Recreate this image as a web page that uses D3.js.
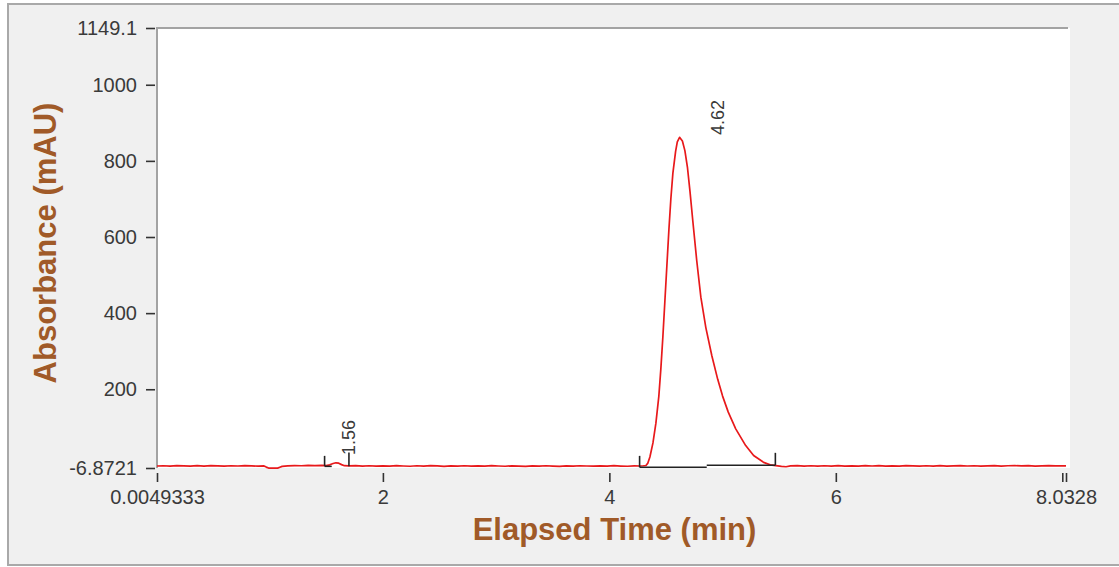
<!DOCTYPE html>
<html>
<head>
<meta charset="utf-8">
<script src="https://cdn.jsdelivr.net/npm/d3@7/dist/d3.min.js"></script>
<style>
  html, body { margin: 0; padding: 0; background: #ffffff; }
  svg { display: block; }
  text { font-family: "Liberation Sans", Arial, sans-serif; }
</style>
</head>
<body>
<svg id="chart" width="1119" height="567"></svg>
<script>
// Axis extents and tick labels
const xDomain = [0.0049333, 8.0328];
const yDomain = [-6.8721, 1149.1];
const xTicks = [0.0049333, 2, 4, 6, 8, 8.0328];
const xTickLabels = ["0.0049333", "2", "4", "6", "", "8.0328"];
const yTicks = [-6.8721, 200, 400, 600, 800, 1000, 1149.1];
const yTickLabels = ["-6.8721", "200", "400", "600", "800", "1000", "1149.1"];

// Detector trace: [elapsed time (min), absorbance (mAU)]
const trace = [
  [0.0049333,-1.6],[0.06,-0.9],[0.12,-1.9],[0.18,-0.7],[0.24,-1.5],[0.30,-2.2],[0.36,-0.8],[0.42,-1.7],
  [0.48,-0.6],[0.54,-1.4],[0.60,-2.0],[0.66,-0.9],[0.72,-1.6],[0.78,-0.5],[0.84,-1.3],[0.90,-2.1],[0.95,-1.5],
  [0.97,-4.5],[0.99,-7.0],[1.03,-7.4],[1.07,-7.1],[1.09,-4.8],[1.11,-2.6],
  [1.16,-1.2],[1.22,-0.4],[1.28,-1.0],[1.34,-0.2],[1.40,-0.8],[1.46,0.1],[1.50,-0.5],
  [1.53,1.5],[1.56,5.0],[1.585,6.8],[1.61,5.8],[1.635,2.0],[1.66,-0.8],
  [1.70,-1.4],[1.76,-0.6],[1.82,-1.8],[1.88,-0.9],[1.94,-2.0],[2.00,-1.1],[2.06,-1.9],[2.12,-0.8],
  [2.18,-1.6],[2.24,-2.3],[2.30,-1.0],[2.36,-1.8],[2.42,-0.7],[2.48,-1.5],[2.54,-2.4],[2.60,-1.2],
  [2.66,-1.9],[2.72,-0.9],[2.78,-2.2],[2.84,-1.3],[2.90,-1.9],[2.96,-0.8],[3.02,-1.6],[3.08,-2.3],
  [3.14,-1.1],[3.20,-1.8],[3.26,-2.5],[3.32,-1.4],[3.38,-2.0],[3.44,-1.0],[3.50,-1.7],[3.56,-2.4],
  [3.62,-1.2],[3.68,-1.9],[3.74,-0.9],[3.80,-1.6],[3.86,-2.2],[3.92,-1.1],[3.98,-1.8],[4.04,-0.8],
  [4.10,-1.7],[4.16,-2.3],[4.22,-1.2],[4.27,-1.6],[4.30,-1.0],
  [4.323,-0.3],[4.34,6],[4.358,22],[4.385,59],[4.411,111],[4.437,182],[4.455,255],[4.473,340],
  [4.490,430],[4.508,525],[4.526,620],[4.543,700],[4.561,768],[4.585,825],[4.60,850],[4.62,862],
  [4.645,852],[4.667,827],[4.690,782],[4.712,720],[4.737,642],[4.772,537],[4.808,442],[4.852,362],
  [4.905,288],[4.957,226],[5.00,182],[5.05,140],[5.116,96],[5.204,52],[5.274,26],[5.362,8],[5.42,1.5],[5.47,-0.8],
  [5.52,-2.8],[5.56,-3.6],[5.60,-1.5],[5.66,-0.7],[5.72,-1.8],[5.78,-0.9],[5.84,-2.1],[5.90,-1.0],
  [5.96,-1.7],[6.02,-0.6],[6.08,-1.9],[6.14,-1.1],[6.20,-2.2],[6.26,-0.8],[6.32,-1.6],[6.38,-0.7],
  [6.44,-2.0],[6.50,-1.2],[6.56,-1.8],[6.62,-0.6],[6.68,-1.5],[6.74,-2.1],[6.80,-0.9],[6.86,-1.7],
  [6.92,-0.8],[6.98,-1.9],[7.04,-1.1],[7.10,-0.5],[7.16,-1.6],[7.22,-0.9],[7.28,-2.0],[7.34,-1.2],
  [7.40,-0.6],[7.46,-1.8],[7.52,-1.0],[7.58,-0.4],[7.64,-1.5],[7.70,-0.8],[7.76,-1.9],[7.82,-1.1],
  [7.88,-0.5],[7.94,-1.4],[8.00,-0.9],[8.0328,-1.2]
];

// Integration events: vertical markers (time, base, top) and drawn baselines
const peakMarkers = [
  { t: 1.485, base: -2.0, top: 25 },
  { t: 1.700, base: -2.0, top: 34 },
  { t: 4.267, base: -5.0, top: 25 },
  { t: 5.466, base: 0.5, top: 33 }
];
const integrationBaselines = [
  { t0: 1.485, t1: 1.548, v: -2.5 },
  { t0: 4.267, t1: 4.860, v: -5.0 },
  { t0: 4.860, t1: 5.466, v: 0.5 }
];
// Retention-time labels and where they sit
const peakLabels = [
  { text: "1.56", t: 1.750, v: 27 },
  { text: "4.62", t: 5.010, v: 868 }
];

const titleColor = "#a05a28";
const textColor = "#3a3a3a";

const svg = d3.select("#chart");

// window frame
svg.append("rect")
  .attr("x", 8).attr("y", 4).attr("width", 1130).attr("height", 561)
  .attr("fill", "#f0f0f0").attr("stroke", "#a9a9a9").attr("stroke-width", 2);

const plot = { left: 157, top: 28, right: 1066, bottom: 468 };

const x = d3.scaleLinear().domain(xDomain).range([plot.left, plot.right]);
const y = d3.scaleLinear().domain(yDomain).range([plot.bottom, plot.top]);

// plot area
svg.append("rect")
  .attr("x", plot.left).attr("y", plot.top)
  .attr("width", plot.right + 4 - plot.left).attr("height", plot.bottom - plot.top)
  .attr("fill", "#ffffff");
svg.append("path")
  .attr("d", `M${plot.left},${plot.bottom} V${plot.top} H${plot.right + 2}`)
  .attr("fill", "none").attr("stroke", "#a3a3a3").attr("stroke-width", 2);

// y axis
const yAxis = svg.append("g")
  .attr("transform", `translate(${plot.left - 2},0)`)
  .call(d3.axisLeft(y).tickValues(yTicks)
    .tickFormat((d, i) => yTickLabels[i]).tickSize(9).tickPadding(9));
yAxis.select(".domain").remove();
yAxis.selectAll(".tick line").attr("stroke", "#333").attr("stroke-width", 1.6);
yAxis.selectAll(".tick text")
  .attr("fill", textColor).style("font-size", "20px")
  .style("font-family", "'Liberation Sans', Arial, sans-serif");

// x axis
const xAxis = svg.append("g")
  .attr("transform", `translate(0,${plot.bottom + 5})`)
  .call(d3.axisBottom(x).tickValues(xTicks)
    .tickFormat((d, i) => xTickLabels[i]).tickSize(9).tickPadding(8));
xAxis.select(".domain").remove();
xAxis.selectAll(".tick line").attr("stroke", "#333").attr("stroke-width", 1.6);
xAxis.selectAll(".tick text")
  .attr("fill", textColor).style("font-size", "20px")
  .style("font-family", "'Liberation Sans', Arial, sans-serif");

// trace
const line = d3.line().x(d => x(d[0])).y(d => y(d[1]));
svg.append("path")
  .datum(trace)
  .attr("d", line)
  .attr("fill", "none")
  .attr("stroke", "#e8191b")
  .attr("stroke-width", 1.7)
  .attr("stroke-linejoin", "round");

// integration baselines and markers
svg.append("g").selectAll("line")
  .data(integrationBaselines)
  .join("line")
  .attr("x1", d => x(d.t0)).attr("x2", d => x(d.t1))
  .attr("y1", d => y(d.v)).attr("y2", d => y(d.v))
  .attr("stroke", "#222").attr("stroke-width", 1.6);
svg.append("g").selectAll("line")
  .data(peakMarkers)
  .join("line")
  .attr("x1", d => x(d.t)).attr("x2", d => x(d.t))
  .attr("y1", d => y(d.base)).attr("y2", d => y(d.top))
  .attr("stroke", "#222").attr("stroke-width", 1.6);

// retention time labels
svg.append("g").selectAll("text")
  .data(peakLabels)
  .join("text")
  .attr("transform", d => `translate(${x(d.t)},${y(d.v)}) rotate(-90)`)
  .attr("text-anchor", "start")
  .attr("fill", textColor)
  .style("font-size", "18px")
  .text(d => d.text);

// axis titles
svg.append("text")
  .attr("x", (plot.left + plot.right) / 2 + 3)
  .attr("y", 540)
  .attr("text-anchor", "middle")
  .attr("fill", titleColor)
  .style("font-size", "31px").style("font-weight", "bold")
  .text("Elapsed Time (min)");

svg.append("text")
  .attr("transform", `translate(45,243) rotate(-90)`)
  .attr("text-anchor", "middle")
  .attr("dy", "0.36em")
  .attr("fill", titleColor)
  .style("font-size", "31px").style("font-weight", "bold")
  .text("Absorbance (mAU)");
</script>
</body>
</html>
